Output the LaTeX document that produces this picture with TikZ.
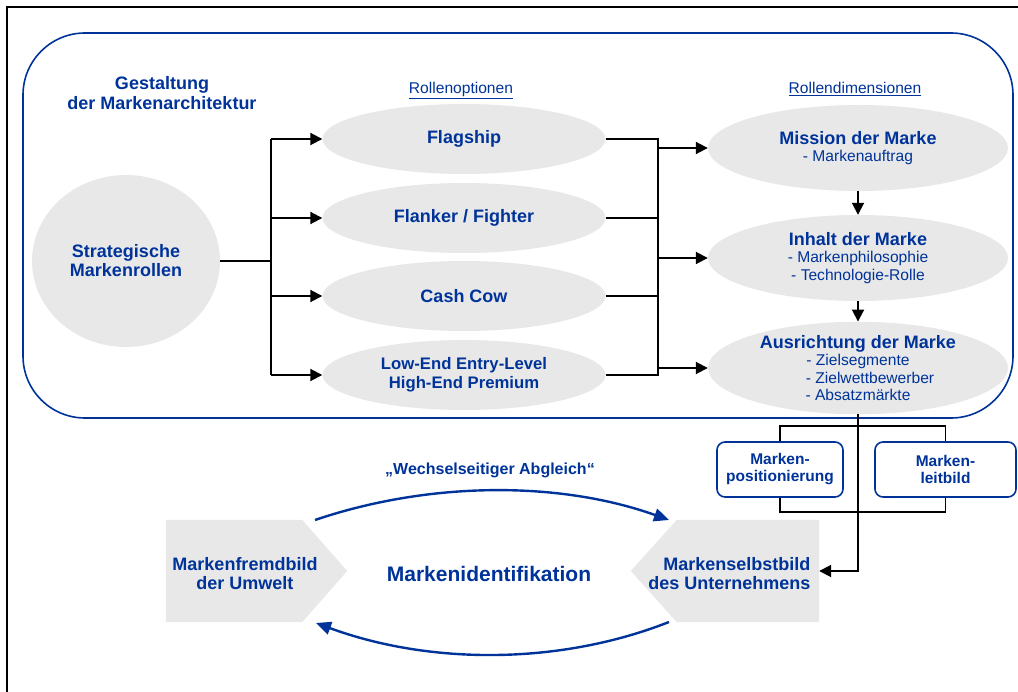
\documentclass[tikz,border=0pt]{standalone}
\usepackage{fontspec}
\setmainfont{Liberation Sans}
\usetikzlibrary{arrows.meta,shapes.geometric}
\definecolor{mblue}{RGB}{0,51,153}
\definecolor{mgrey}{RGB}{232,232,232}

\begin{document}
\begin{tikzpicture}[x=1pt,y=-1pt,
  title/.style={text=mblue, align=center, font=\bfseries\fontsize{18}{20}\selectfont},
  heading/.style={text=mblue, font=\fontsize{15.6}{17}\selectfont},
  role/.style={ellipse, fill=mgrey, minimum width=283pt, minimum height=70pt, inner sep=0pt,
    text=mblue, align=center, font=\bfseries\fontsize{18}{19}\selectfont},
  dimension/.style={ellipse, fill=mgrey, minimum width=300pt, minimum height=86pt, inner sep=0pt,
    text=mblue, align=center, font=\fontsize{15.6}{17.4}\selectfont},
  card/.style={draw=mblue, line width=1.6pt, rounded corners=8pt, minimum height=55pt,
    inner sep=0pt, text=mblue, align=center, font=\bfseries\fontsize{15.5}{17}\selectfont},
  conn/.style={black, line width=1.9pt},
  arrowline/.style={conn, -{Triangle[length=12pt,width=12pt]}},
  swaparrow/.style={mblue, line width=2.4pt, -{Triangle[length=15pt,width=13pt]}}
]
\useasboundingbox (0,0) rectangle (1018,692);

% outer frame (top and left edges)
\draw[black, line width=2.2pt] (7,692) -- (7,7) -- (1018,7);

% brand architecture panel
\draw[mblue, line width=1.6pt, rounded corners=62pt] (23,33) rectangle (1013,418);

\node[title] (gest) at (162,93) {Gestaltung\\der Markenarchitektur};
\node[heading, anchor=base] (ropt) at (461,94) {\underline{Rollenoptionen}};
\node[heading, anchor=base] (rdim) at (855,94) {\underline{Rollendimensionen}};

% strategic brand roles
\node[ellipse, fill=mgrey, minimum width=188pt, minimum height=172pt, inner sep=0pt,
  text=mblue, align=center, font=\bfseries\fontsize{18}{19}\selectfont] (strat) at (126,261)
  {Strategische\\Markenrollen};

% role options
\node[role] (flag) at (464,139) {Flagship};
\node[role] (flank) at (464,218) {Flanker / Fighter};
\node[role] (cash) at (464,296) {Cash Cow};
\node[role, font=\bfseries\fontsize{16.7}{19}\selectfont] (low) at (464,375)
  {Low-End Entry-Level\\High-End Premium};

% role dimensions
\node[dimension] (miss) at (858,148)
  {{\bfseries\fontsize{18}{17}\selectfont Mission der Marke}\\- Markenauftrag};
\node[dimension] (inh) at (858,258)
  {{\bfseries\fontsize{18}{17}\selectfont Inhalt der Marke}\\- Markenphilosophie\\- Technologie-Rolle};
\node[dimension] (aus) at (858,368)
  {{\bfseries\fontsize{18}{17}\selectfont Ausrichtung der Marke}\\- Zielsegmente\\\hspace*{24pt}- Zielwettbewerber\\- Absatzmärkte};

% connectors: strategic roles to options
\coordinate (busL) at (271,261);
\draw[conn] (strat.east) -- (busL);
\draw[conn] (271,139) -- (271,375);
\draw[arrowline] (271,139) -- (flag.west);
\draw[arrowline] (271,218) -- (flank.west);
\draw[arrowline] (271,296) -- (cash.west);
\draw[arrowline] (271,375) -- (low.west);

% connectors: options to dimensions
\draw[conn] (flag.east) -- (658,139);
\draw[conn] (flank.east) -- (658,218);
\draw[conn] (cash.east) -- (658,296);
\draw[conn] (low.east) -- (658,375);
\draw[conn] (658,138) -- (658,376);
\draw[arrowline] (658,148) -- (miss.west);
\draw[arrowline] (658,258) -- (inh.west);
\draw[arrowline] (658,368) -- (aus.west);

\draw[arrowline] (miss.south) -- (inh.north);
\draw[arrowline] (inh.south) -- (aus.north);

% positioning and mission statement
\node[card, minimum width=126pt] (pos) at (780,469.5) {Marken-\\positionierung};
\node[card, minimum width=141pt] (leit) at (945.5,469.5) {Marken-\\leitbild};
\draw[conn] (pos.north) -- (780,426) -- (945.5,426) -- (leit.north);
\draw[conn] (pos.south) -- (780,512) -- (945.5,512) -- (leit.south);

% self image and external image
\node[minimum width=188pt, minimum height=102pt, inner sep=0pt] (selbstbox) at (725,571) {};
\fill[mgrey] (selbstbox.west) -- ([xshift=46pt]selbstbox.north west) -- (selbstbox.north east)
  -- (selbstbox.south east) -- ([xshift=46pt]selbstbox.south west) -- cycle;
\node[text=mblue, align=right, anchor=east, font=\bfseries\fontsize{18}{19}\selectfont]
  (selbst) at (814,574) {Markenselbstbild\\des Unternehmens};

\node[minimum width=181pt, minimum height=102pt, inner sep=0pt] (fremdbox) at (256.5,571) {};
\fill[mgrey] (fremdbox.north west) -- ([xshift=-45pt]fremdbox.north east) -- (fremdbox.east)
  -- ([xshift=-45pt]fremdbox.south east) -- (fremdbox.south west) -- cycle;
\node[text=mblue, align=center, font=\bfseries\fontsize{18}{19}\selectfont]
  (fremd) at (245,574) {Markenfremdbild\\der Umwelt};

\node[text=mblue, font=\bfseries\fontsize{21}{23}\selectfont] (ident) at (489,574) {Markenidentifikation};

\draw[arrowline] (aus.south) -- (858,571) -- (selbstbox.east);

% mutual alignment
\coordinate (upA) at (315,520);
\coordinate (upB) at (669,520);
\coordinate (loA) at (669,622);
\coordinate (loB) at (316,623);
\draw[swaparrow] (upA) .. controls (430,481) and (560,481) .. (upB);
\draw[swaparrow] (loA) .. controls (560,665) and (430,665) .. (loB);
\node[text=mblue, font=\bfseries\fontsize{16}{18}\selectfont, anchor=base] (abgl) at (490,475)
  {„Wechselseitiger Abgleich“};
\end{tikzpicture}
\end{document}
